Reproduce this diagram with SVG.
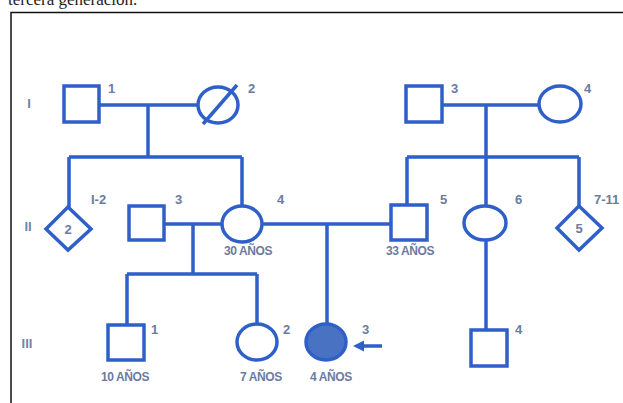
<svg xmlns="http://www.w3.org/2000/svg" width="623" height="403" viewBox="0 0 623 403">
<style>
.s{fill:none;stroke:#2f5fc8;stroke-width:3.5}
.n{fill:#fff;stroke:#2f5fc8;stroke-width:3.5}
.t{font-family:"Liberation Sans",Arial,sans-serif;font-size:13px;font-weight:bold;fill:#6b7ba0}
.g{font-family:"Liberation Sans",Arial,sans-serif;font-size:13px;font-weight:bold;fill:#7383a6}
.a{font-family:"Liberation Sans",Arial,sans-serif;font-size:12px;font-weight:bold;fill:#6b7ba0;letter-spacing:-0.4px}
</style>
<defs>
<marker id="ah" viewBox="0 0 10 10" refX="2" refY="5" markerWidth="3.2" markerHeight="3.2" orient="auto"><path d="M0,0 L10,5 L0,10 z" fill="#2f5fc8"/></marker>
</defs>
<rect width="623" height="403" fill="#fff"/>
<text x="8" y="5" font-family="Liberation Serif,serif" font-size="17" fill="#222">tercera generación.</text>
<path d="M11,403 V12.5 H623" fill="none" stroke="#111" stroke-width="1.5"/>
<g id="gen-labels">
<text class="g" x="29" y="108" text-anchor="middle">I</text>
<text class="g" x="28" y="231" text-anchor="middle">II</text>
<text class="g" x="27" y="348" text-anchor="middle">III</text>
</g>
<g id="connectors">
<path class="s" d="M99,105 H198 M148,105 V157 M69,157 H242 M69,157 V207 M242,157 V206"/>
<path class="s" d="M442,105 H539 M486,105 V157 M407,157 H579 M407,157 V204 M486,157 V206 M579,157 V206"/>
<path class="s" d="M164,224 H222 M193,224 V274 M127,274 H257 M127,274 V324 M257,274 V324"/>
<path class="s" d="M262,224 H391 M327,224 V324"/>
<path class="s" d="M486,240 V329"/>
<line class="s" x1="382" y1="346" x2="362" y2="346" marker-end="url(#ah)"/>
</g>
<g id="I-1"><rect class="n" x="64" y="86" width="35" height="36"/><text class="t" x="108" y="93">1</text></g>
<g id="I-2"><ellipse class="n" cx="218" cy="105" rx="20" ry="18"/><line class="s" x1="203" y1="124" x2="237" y2="85"/><text class="t" x="248" y="93">2</text></g>
<g id="I-3"><rect class="n" x="406" y="86" width="36" height="36"/><text class="t" x="451" y="93">3</text></g>
<g id="I-4"><ellipse class="n" cx="560" cy="104" rx="21" ry="18"/><text class="t" x="584" y="93">4</text></g>
<g id="II-1-2"><polygon class="n" points="68,207 91,229 68,250 46,229"/><text class="t" x="68" y="234" text-anchor="middle">2</text><text class="t" x="91" y="204">I-2</text></g>
<g id="II-3"><rect class="n" x="129" y="206" width="35" height="34"/><text class="t" x="175" y="204">3</text></g>
<g id="II-4"><ellipse class="n" cx="242" cy="224" rx="20" ry="18"/><text class="t" x="277" y="204">4</text><text class="a" x="248" y="255" text-anchor="middle">30 AÑOS</text></g>
<g id="II-5"><rect class="n" x="391" y="205" width="36" height="35"/><text class="t" x="440" y="204">5</text><text class="a" x="410" y="255" text-anchor="middle">33 AÑOS</text></g>
<g id="II-6"><ellipse class="n" cx="485" cy="223" rx="21" ry="17"/><text class="t" x="515" y="204">6</text></g>
<g id="II-7-11"><polygon class="n" points="579,206 602,228 579,250 557,228"/><text class="t" x="579" y="233" text-anchor="middle">5</text><text class="t" x="594" y="204">7-11</text></g>
<g id="III-1"><rect class="n" x="108" y="325" width="36" height="35"/><text class="t" x="151" y="334">1</text><text class="a" x="125" y="381" text-anchor="middle">10 AÑOS</text></g>
<g id="III-2"><ellipse class="n" cx="257" cy="342" rx="20" ry="18"/><text class="t" x="283" y="334">2</text><text class="a" x="261" y="381" text-anchor="middle">7 AÑOS</text></g>
<g id="III-3"><ellipse cx="326" cy="342" rx="20" ry="18" fill="#4a72c2" stroke="#2f5fc8" stroke-width="3.5"/><text class="t" x="362" y="334">3</text><text class="a" x="331" y="381" text-anchor="middle">4 AÑOS</text></g>
<g id="III-4"><rect class="n" x="471" y="330" width="36" height="36"/><text class="t" x="515" y="334">4</text></g>
</svg>
